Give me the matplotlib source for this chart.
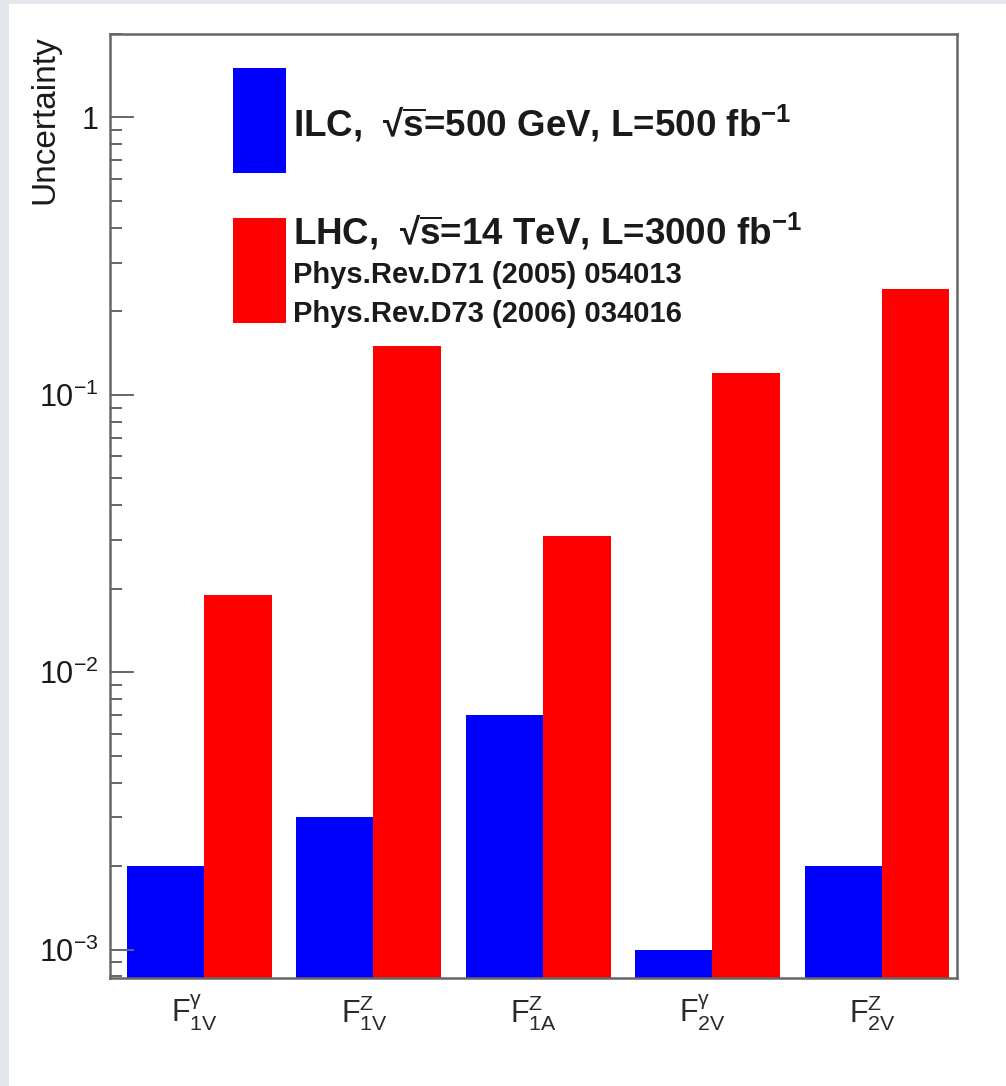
import numpy as np
import matplotlib
matplotlib.use('Agg')
from matplotlib import pyplot as plt
from matplotlib.patches import Rectangle
from matplotlib.ticker import FixedLocator, NullFormatter

plt.rcParams['font.family'] = ['Liberation Sans', 'DejaVu Sans']
plt.rcParams['mathtext.fontset'] = 'custom'
plt.rcParams['mathtext.rm'] = 'Liberation Sans'
plt.rcParams['mathtext.it'] = 'Liberation Sans'
plt.rcParams['mathtext.bf'] = 'Liberation Sans:bold'

# form factors and their expected uncertainties
labels = [r'$\mathrm{F}^{\gamma}_{\mathrm{1V}}$', r'$\mathrm{F}^{\mathrm{Z}}_{\mathrm{1V}}$',
          r'$\mathrm{F}^{\mathrm{Z}}_{\mathrm{1A}}$', r'$\mathrm{F}^{\gamma}_{\mathrm{2V}}$',
          r'$\mathrm{F}^{\mathrm{Z}}_{\mathrm{2V}}$']
ilc = [0.002, 0.003, 0.007, 0.001, 0.002]
lhc = [0.019, 0.15, 0.031, 0.12, 0.24]

W, H = 1006, 1086
fig = plt.figure(figsize=(W / 100, H / 100), dpi=100, facecolor='white')
# grey frame strips along the left and top
fig.patches.append(Rectangle((0, 0), 9 / W, 1, transform=fig.transFigure,
                             facecolor='#e3e6eb', edgecolor='none'))
fig.patches.append(Rectangle((0, 1 - 4 / H), 1, 4 / H, transform=fig.transFigure,
                             facecolor='#e3e6eb', edgecolor='none'))

def fx(px):
    return px / W

def fy(py):
    return 1 - py / H

ax = fig.add_axes([fx(110), fy(978), fx(957) - fx(110), fy(34) - fy(978)])
ax.set_zorder(2)
ax.set_facecolor('white')

x = np.arange(len(labels))
ax.bar(x + 0.1, ilc, width=0.455, align='edge', color='#0000ff', edgecolor='none')
ax.bar(x + 0.555, lhc, width=0.4, align='edge', color='#ff0000', edgecolor='none')

ax.set_yscale('log')
ax.set_ylim(7.9e-4, 2.0)
ax.set_xlim(0, len(labels))

ax.yaxis.set_major_locator(FixedLocator([1e-3, 1e-2, 1e-1, 1]))
ax.set_yticklabels([r'$10^{-3}$', r'$10^{-2}$', r'$10^{-1}$', '1'])
ax.yaxis.set_minor_locator(FixedLocator([m * 10.0 ** e for e in range(-4, 1) for m in range(2, 10)]))
ax.yaxis.set_minor_formatter(NullFormatter())
ax.tick_params(axis='y', which='major', direction='in', length=17, width=1.4,
               color='#666666', labelsize=22, pad=8, labelcolor='#1a1a1a')
ax.tick_params(axis='y', which='minor', direction='in', length=8.5, width=1.4, color='#666666')

ax.set_xticks(x + 0.5)
ax.set_xticklabels(labels)
ax.tick_params(axis='x', length=0, labelsize=22, pad=11, labelcolor='#2a2a2a')

for s in ax.spines.values():
    s.set_color('#666666')
    s.set_linewidth(1.8)

fig.text(fx(45), fy(35), 'Uncertainty', rotation=90, ha='center', va='top',
         fontsize=24, color='#1a1a1a')

# legend boxes and entries
fig.patches.append(Rectangle((fx(233), fy(173)), fx(286) - fx(233), fy(68) - fy(173),
                             transform=fig.transFigure, facecolor='#0000ff', edgecolor='none',
                             zorder=5))
fig.patches.append(Rectangle((fx(233), fy(323)), fx(286) - fx(233), fy(218) - fy(323),
                             transform=fig.transFigure, facecolor='#ff0000', edgecolor='none',
                             zorder=5))

leg = dict(fontweight='bold', color='#1a1a1a', va='baseline', zorder=5)
fig.text(fx(293), fy(137), r'ILC,  √$\overline{\mathbf{s}}$=500 GeV, L=500 fb$^{\mathbf{-1}}$',
         fontsize=26.5, **leg)
fig.text(fx(293), fy(245), r'LHC,  √$\overline{\mathbf{s}}$=14 TeV, L=3000 fb$^{\mathbf{-1}}$',
         fontsize=26.5, **leg)
fig.text(fx(293), fy(283), 'Phys.Rev.D71 (2005) 054013', fontsize=21, **leg)
fig.text(fx(293), fy(322), 'Phys.Rev.D73 (2006) 034016', fontsize=21, **leg)

fig.savefig('out.png', dpi=100)
